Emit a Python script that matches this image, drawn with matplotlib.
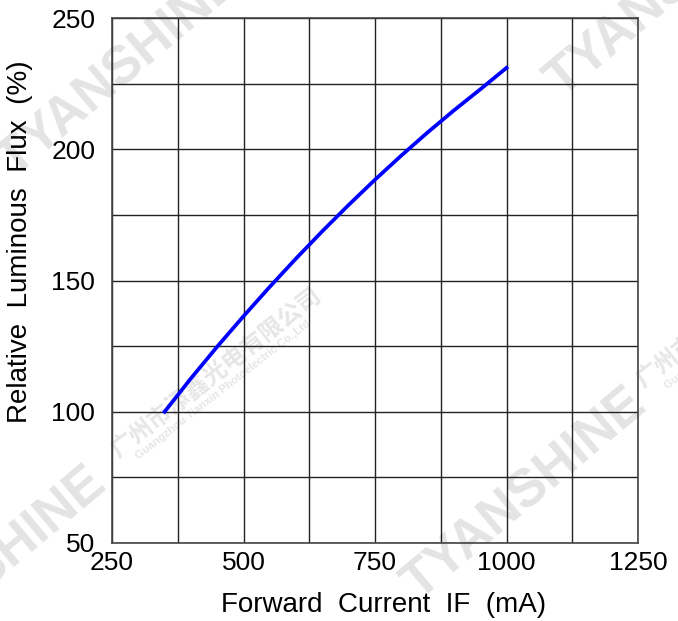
import matplotlib
matplotlib.use('Agg')
import matplotlib.pyplot as plt
from matplotlib.ticker import MultipleLocator, FixedLocator

plt.rcParams['font.family'] = ['Liberation Sans', 'DejaVu Sans']

# values
current_ma = [350, 400, 450, 500, 550, 600, 650, 700, 750, 800, 850, 900, 950, 1000]
rel_flux = [100, 112.7, 124.8, 136.4, 147.6, 158.4, 168.8, 178.8, 188.4,
            197.6, 206.4, 214.8, 222.8, 231]

x_ticks = [250, 500, 750, 1000, 1250]
y_ticks = [50, 100, 150, 200, 250]

W, H = 678, 621
fig = plt.figure(figsize=(W / 100, H / 100), dpi=100)
ax = fig.add_axes([112 / W, 1 - 543 / H, 526 / W, 525 / H])
ax.set_facecolor('none')

ax.plot(current_ma, rel_flux, color='#0000ff', lw=2.7, zorder=3)

ax.set_xlim(250, 1250)
ax.set_ylim(50, 250)
ax.xaxis.set_major_locator(FixedLocator(x_ticks))
ax.yaxis.set_major_locator(FixedLocator(y_ticks))
ax.xaxis.set_minor_locator(MultipleLocator(125))
ax.yaxis.set_minor_locator(MultipleLocator(25))
ax.grid(True, which='both', color='#222222', lw=1.0)
ax.tick_params(which='both', length=0, labelsize=19)
ax.tick_params(axis='x', pad=6)
ax.tick_params(axis='y', pad=12)
for s in ax.spines.values():
    s.set_color('#444444')
    s.set_linewidth(1.2)

ax.set_xlabel('Forward  Current  IF  (mA)', fontsize=20)
ax.set_ylabel('Relative  Luminous  Flux  (%)', fontsize=20)
ax.xaxis.set_label_coords(0.517, -0.093)
ax.yaxis.set_label_coords(-0.150, 0.573)

# faint watermarks behind the chart
wm = dict(color='#e4e4e4', fontsize=38, fontweight='bold', rotation=40,
          ha='center', va='center', rotation_mode='anchor', zorder=-1)
for px, py in [(120, 72), (525, 495), (668, -8), (-15, 574)]:
    fig.text(px / W, 1 - py / H, 'TYANSHINE', **wm)

cn = dict(color='#e6e6e6', rotation=38, ha='center', va='center',
          rotation_mode='anchor', zorder=-1, fontweight='bold')
for (cx, cy), (ex, ey) in [((216, 373), (223, 390)), ((741, 303), (752, 320))]:
    fig.text(cx / W, 1 - cy / H, '广州市添鑫光电有限公司', fontsize=17,
             family=['Noto Sans CJK SC', 'DejaVu Sans'], **cn)
    fig.text(ex / W, 1 - ey / H, 'Guangzhou Tianxin Photoelectric Co.,Ltd',
             fontsize=8, **cn)

plt.savefig('out.png', dpi=100)
